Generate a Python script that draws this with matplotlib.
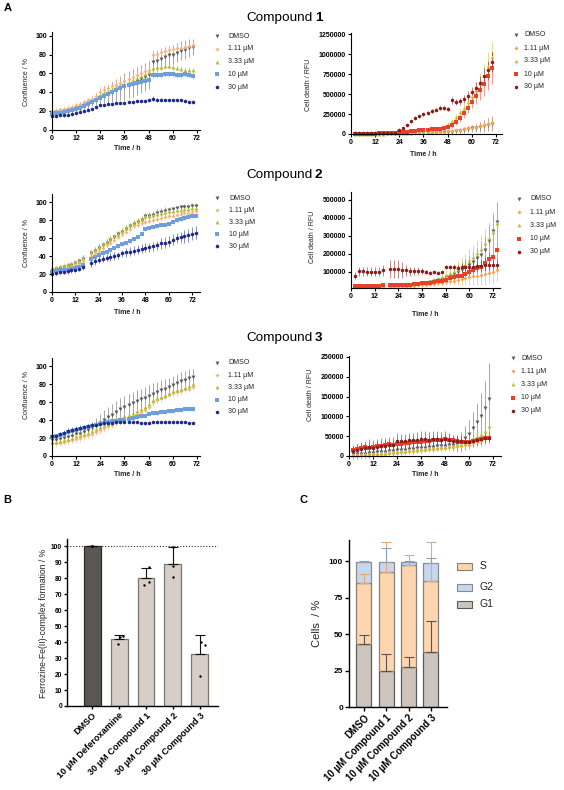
import matplotlib
matplotlib.use('Agg')
import matplotlib.pyplot as plt
from matplotlib.lines import Line2D
from matplotlib.patches import Rectangle
from matplotlib.colors import to_rgba

plt.rcParams['font.family'] = ['Liberation Sans', 'DejaVu Sans']

# ---------------- data ----------------
LABELS = ['DMSO', '1.11 µM', '3.33 µM', '10 µM', '30 µM']
XTICKS = [0, 12, 24, 36, 48, 60, 72]

# Compound 1
T1 = [0, 2, 4, 6, 8, 10, 12, 14, 16, 18, 20, 22, 24, 26, 28, 30, 32, 34, 36, 38, 40, 42, 44, 46, 48, 50, 52, 54, 56, 58, 60, 62, 64, 66, 68, 70]
T1R = [2, 4, 6, 8, 10, 12, 14, 16, 18, 20, 22, 24, 26, 28, 30, 32, 34, 36, 38, 40, 42, 44, 46, 48, 50, 52, 54, 56, 58, 60, 62, 64, 66, 68, 70]
c1_dmso = [19, 19, 20, 20, 21, 22, 23, 24, 26, 28, 30, 32, 35, 37, 38, 40, 42, 44, 46, 48, 50, 52, 54, 56, 58, 72, 73, 75, 77, 79, 80, 82, 84, 85, 87, 88]
c1_dmso_err = [3, 3, 3, 3, 3, 3, 4, 4, 4, 5, 5, 6, 8, 9, 10, 11, 12, 13, 14, 14, 15, 15, 15, 15, 15, 12, 11, 11, 11, 10, 10, 10, 10, 10, 10, 9]
c1_111 = [20, 20, 21, 22, 23, 24, 26, 27, 29, 31, 33, 36, 40, 42, 44, 46, 48, 50, 52, 54, 56, 58, 60, 62, 64, 80, 81, 83, 84, 85, 86, 87, 87, 88, 89, 90]
c1_111_err = [3, 3, 3, 3, 3, 3, 3, 3, 4, 4, 4, 5, 6, 6, 6, 6, 6, 6, 6, 6, 6, 6, 6, 6, 6, 4, 4, 4, 4, 4, 4, 4, 4, 4, 4, 4]
c1_333 = [18, 18, 19, 20, 21, 22, 24, 25, 27, 29, 31, 34, 37, 39, 41, 43, 45, 47, 49, 51, 53, 55, 57, 59, 61, 66, 67, 67, 68, 68, 67, 66, 65, 64, 64, 63]
c1_333_err = [2, 2, 2, 2, 2, 2, 3, 3, 3, 3, 3, 3, 4, 4, 4, 4, 4, 4, 4, 4, 4, 4, 4, 4, 4, 3, 3, 3, 3, 3, 3, 3, 3, 3, 3, 3]
c1_10 = [17, 18, 18, 19, 20, 21, 22, 23, 25, 27, 29, 31, 34, 36, 38, 40, 42, 44, 46, 47, 49, 50, 51, 52, 53, 58, 58, 58, 59, 59, 59, 58, 58, 59, 58, 57]
c1_10_err = [3, 3, 3, 3, 3, 3, 3, 3, 3, 3, 3, 3, 3, 3, 3, 3, 3, 3, 3, 3, 3, 3, 3, 3, 3, 3, 3, 3, 3, 3, 3, 3, 3, 3, 3, 3]
c1_30 = [14, 14, 15, 15, 16, 17, 18, 19, 20, 21, 22, 24, 26, 26, 27, 27, 28, 28, 28, 29, 29, 30, 30, 30, 31, 33, 32, 32, 32, 31, 31, 31, 31, 30, 29, 29]
c1_30_err = [1, 1, 1, 1, 1, 1, 1, 1, 1, 1, 1, 1, 1, 1, 1, 1, 1, 1, 1, 1, 1, 1, 1, 1, 1, 3, 2, 2, 1, 1, 1, 1, 1, 1, 1, 1]

d1_dmso = [5000, 5000, 5000, 5000, 5000, 6000, 6000, 6000, 7000, 7000, 8000, 8000, 9000, 10000, 10000, 11000, 12000, 13000, 14000, 15000, 17000, 19000, 22000, 25000, 30000, 35000, 42000, 50000, 60000, 70000, 80000, 90000, 100000, 115000, 130000]
d1_dmso_err = [3000, 3000, 3000, 3000, 3000, 3000, 3000, 3000, 3000, 3000, 3000, 4000, 4000, 5000, 5000, 6000, 6000, 7000, 8000, 9000, 10000, 12000, 14000, 16000, 20000, 25000, 30000, 35000, 40000, 45000, 50000, 60000, 70000, 80000, 90000]
d1_111 = [6000, 6000, 6000, 6000, 6000, 7000, 7000, 7000, 8000, 8000, 9000, 10000, 11000, 12000, 13000, 14000, 15000, 16000, 18000, 20000, 22000, 25000, 28000, 32000, 38000, 45000, 52000, 60000, 70000, 80000, 90000, 100000, 110000, 125000, 140000]
d1_111_err = [3000, 3000, 3000, 3000, 3000, 3000, 3000, 3000, 3000, 3000, 3000, 4000, 4000, 5000, 5000, 5000, 6000, 6000, 7000, 8000, 9000, 10000, 12000, 14000, 16000, 18000, 20000, 25000, 30000, 35000, 40000, 45000, 50000, 60000, 70000]
d1_333 = [5000, 5000, 5000, 5000, 5000, 6000, 6000, 6000, 7000, 7000, 8000, 10000, 12000, 15000, 18000, 22000, 26000, 30000, 35000, 40000, 48000, 60000, 85000, 120000, 160000, 210000, 270000, 330000, 400000, 470000, 550000, 640000, 740000, 850000, 960000]
d1_333_err = [3000, 3000, 3000, 3000, 3000, 3000, 3000, 3000, 3000, 3000, 3000, 4000, 4000, 5000, 5000, 6000, 6000, 7000, 8000, 10000, 12000, 15000, 20000, 25000, 30000, 40000, 50000, 60000, 70000, 80000, 100000, 120000, 140000, 170000, 190000]
d1_10 = [5000, 5000, 5000, 6000, 6000, 6000, 7000, 7000, 8000, 8000, 10000, 20000, 25000, 30000, 35000, 40000, 45000, 50000, 55000, 58000, 62000, 66000, 72000, 85000, 110000, 150000, 200000, 260000, 330000, 400000, 470000, 550000, 620000, 720000, 830000]
d1_10_err = [4000, 4000, 4000, 4000, 4000, 4000, 4000, 4000, 4000, 4000, 4000, 8000, 8000, 8000, 9000, 9000, 9000, 10000, 10000, 10000, 11000, 12000, 14000, 18000, 30000, 40000, 50000, 60000, 70000, 80000, 100000, 120000, 140000, 170000, 200000]
d1_30 = [8000, 9000, 9000, 10000, 10000, 10000, 11000, 11000, 12000, 12000, 14000, 45000, 75000, 115000, 160000, 200000, 225000, 245000, 265000, 290000, 305000, 320000, 325000, 315000, 420000, 400000, 410000, 440000, 480000, 520000, 570000, 640000, 720000, 800000, 900000]
d1_30_err = [5000, 5000, 5000, 5000, 5000, 5000, 5000, 5000, 5000, 5000, 5000, 10000, 12000, 14000, 16000, 18000, 18000, 20000, 20000, 22000, 22000, 25000, 25000, 25000, 40000, 40000, 45000, 50000, 60000, 70000, 80000, 90000, 100000, 110000, 130000]

# Compound 2
T2L = [0, 2, 4, 6, 8, 10, 12, 14, 16, 20, 22, 24, 26, 28, 30, 32, 34, 36, 38, 40, 42, 44, 46, 48, 50, 52, 54, 56, 58, 60, 62, 64, 66, 68, 70, 72, 74]
T2R = [2, 4, 6, 8, 10, 12, 14, 16, 20, 22, 24, 26, 28, 30, 32, 34, 36, 38, 40, 42, 44, 46, 48, 50, 52, 54, 56, 58, 60, 62, 64, 66, 68, 70, 72, 74]
c2_dmso = [25, 26, 27, 28, 29, 30, 32, 34, 37, 43, 46, 49, 52, 55, 58, 61, 64, 67, 70, 73, 76, 78, 80, 84, 85, 86, 88, 89, 90, 91, 92, 93, 94, 95, 95, 96, 96]
c2_dmso_err = [2, 2, 2, 2, 3, 3, 3, 3, 4, 4, 4, 4, 4, 4, 4, 4, 4, 4, 4, 4, 4, 4, 4, 4, 4, 4, 4, 4, 4, 4, 3, 3, 3, 3, 3, 3, 3]
c2_111 = [24, 25, 26, 27, 28, 29, 30, 32, 34, 40, 43, 46, 49, 52, 55, 58, 61, 64, 67, 70, 73, 75, 77, 78, 79, 80, 81, 82, 83, 84, 85, 86, 87, 88, 88, 89, 90]
c2_111_err = [2, 2, 2, 2, 2, 2, 2, 2, 2, 3, 3, 3, 3, 3, 3, 3, 3, 3, 3, 3, 3, 3, 3, 3, 3, 3, 3, 3, 3, 3, 3, 3, 3, 3, 3, 3, 3]
c2_333 = [26, 27, 28, 29, 30, 31, 33, 35, 38, 44, 47, 50, 53, 56, 59, 62, 65, 68, 71, 74, 77, 79, 81, 84, 85, 86, 87, 88, 89, 90, 90, 91, 91, 92, 92, 93, 93]
c2_333_err = [3, 3, 3, 3, 3, 3, 3, 3, 3, 3, 3, 3, 3, 3, 3, 3, 3, 3, 3, 3, 3, 3, 3, 3, 3, 3, 3, 3, 3, 3, 3, 3, 3, 3, 3, 3, 3]
c2_10 = [22, 23, 24, 24, 25, 26, 27, 28, 30, 37, 39, 41, 43, 45, 47, 49, 51, 53, 55, 57, 59, 61, 64, 70, 71, 72, 73, 74, 75, 76, 78, 80, 81, 82, 83, 84, 85]
c2_10_err = [2, 2, 2, 2, 2, 2, 2, 2, 2, 2, 2, 2, 2, 2, 2, 2, 2, 2, 2, 2, 2, 2, 2, 2, 2, 2, 2, 2, 2, 2, 2, 2, 2, 2, 2, 2, 2]
c2_30 = [20, 21, 22, 22, 23, 24, 25, 26, 28, 32, 34, 36, 37, 38, 39, 40, 41, 43, 44, 45, 46, 47, 48, 49, 50, 51, 52, 54, 55, 56, 58, 60, 61, 62, 63, 65, 66]
c2_30_err = [2, 2, 2, 2, 3, 3, 3, 3, 4, 4, 4, 4, 4, 4, 4, 4, 4, 4, 5, 5, 5, 5, 5, 5, 5, 5, 5, 6, 6, 6, 6, 6, 6, 7, 7, 7, 7]

d2_dmso = [18000, 19000, 20000, 20000, 21000, 21000, 22000, 23000, 24000, 25000, 26000, 27000, 28000, 30000, 32000, 34000, 36000, 40000, 44000, 48000, 54000, 60000, 70000, 80000, 90000, 100000, 110000, 125000, 140000, 155000, 175000, 195000, 220000, 270000, 330000, 380000]
d2_dmso_err = [3000, 3000, 3000, 3000, 3000, 3000, 3000, 3000, 3000, 3000, 3000, 3000, 4000, 4000, 5000, 5000, 6000, 8000, 10000, 12000, 15000, 18000, 20000, 25000, 30000, 35000, 40000, 45000, 50000, 55000, 60000, 70000, 80000, 90000, 100000, 110000]
d2_111 = [15000, 15000, 15000, 16000, 16000, 16000, 17000, 17000, 18000, 19000, 20000, 21000, 22000, 23000, 24000, 26000, 28000, 30000, 32000, 34000, 36000, 40000, 45000, 48000, 52000, 55000, 60000, 65000, 70000, 75000, 80000, 85000, 90000, 95000, 100000, 110000]
d2_111_err = [4000, 4000, 4000, 4000, 4000, 4000, 4000, 4000, 5000, 5000, 5000, 5000, 6000, 6000, 7000, 8000, 9000, 10000, 12000, 14000, 16000, 18000, 20000, 22000, 25000, 28000, 30000, 35000, 40000, 45000, 50000, 55000, 60000, 60000, 60000, 60000]
d2_333 = [20000, 21000, 21000, 22000, 22000, 23000, 24000, 25000, 25000, 26000, 27000, 28000, 30000, 32000, 34000, 36000, 38000, 42000, 46000, 52000, 58000, 66000, 80000, 95000, 105000, 115000, 130000, 145000, 165000, 185000, 205000, 230000, 260000, 290000, 320000, 370000]
d2_333_err = [3000, 3000, 3000, 3000, 3000, 3000, 3000, 3000, 3000, 3000, 3000, 4000, 4000, 5000, 6000, 7000, 8000, 10000, 12000, 15000, 20000, 25000, 30000, 35000, 40000, 45000, 50000, 55000, 60000, 65000, 70000, 75000, 80000, 90000, 100000, 120000]
d2_10 = [20000, 20000, 20000, 20000, 22000, 22000, 24000, 25000, 25000, 25000, 26000, 27000, 28000, 30000, 32000, 34000, 36000, 38000, 40000, 44000, 48000, 52000, 58000, 64000, 70000, 75000, 80000, 90000, 100000, 110000, 120000, 130000, 150000, 170000, 185000, 220000]
d2_10_err = [3000, 3000, 3000, 3000, 3000, 3000, 3000, 3000, 3000, 3000, 3000, 3000, 4000, 4000, 5000, 5000, 6000, 7000, 8000, 10000, 12000, 14000, 16000, 18000, 20000, 22000, 24000, 26000, 28000, 30000, 32000, 35000, 38000, 40000, 42000, 45000]
d2_30 = [80000, 105000, 105000, 100000, 100000, 100000, 100000, 110000, 115000, 115000, 115000, 110000, 110000, 105000, 105000, 105000, 105000, 100000, 95000, 100000, 95000, 100000, 130000, 130000, 125000, 120000, 125000, 130000, 130000, 130000, 135000, 135000, 140000, 140000, 140000, 140000]
d2_30_err = [20000, 25000, 25000, 25000, 25000, 25000, 25000, 30000, 50000, 50000, 50000, 45000, 30000, 25000, 20000, 20000, 15000, 10000, 8000, 8000, 8000, 8000, 8000, 10000, 15000, 20000, 25000, 25000, 30000, 30000, 30000, 30000, 35000, 35000, 35000, 40000]

# Compound 3
T3 = T1
T3R = T1R
c3_dmso = [18, 18, 19, 20, 21, 22, 24, 25, 27, 29, 31, 34, 37, 40, 43, 46, 49, 52, 55, 57, 59, 61, 63, 65, 67, 69, 71, 73, 75, 77, 79, 81, 83, 85, 87, 88]
c3_dmso_err = [4, 4, 4, 4, 4, 5, 5, 5, 6, 6, 7, 8, 10, 11, 12, 12, 12, 12, 12, 12, 12, 12, 12, 12, 12, 12, 11, 11, 11, 10, 10, 10, 10, 10, 10, 9]
c3_111 = [14, 14, 15, 16, 17, 18, 19, 20, 22, 23, 25, 27, 29, 31, 33, 35, 37, 39, 41, 43, 45, 47, 49, 51, 55, 60, 62, 64, 66, 68, 70, 71, 72, 74, 75, 77]
c3_111_err = [4, 4, 4, 4, 4, 4, 4, 4, 4, 4, 4, 4, 4, 4, 4, 4, 4, 4, 4, 4, 4, 4, 4, 4, 4, 4, 4, 4, 4, 4, 4, 4, 4, 4, 4, 4]
c3_333 = [16, 16, 17, 18, 19, 20, 22, 23, 25, 26, 28, 30, 32, 34, 36, 38, 40, 42, 44, 46, 48, 50, 52, 54, 58, 62, 64, 66, 68, 70, 72, 73, 74, 76, 78, 80]
c3_333_err = [3, 3, 3, 3, 3, 3, 3, 3, 3, 3, 3, 3, 3, 3, 3, 3, 3, 3, 3, 3, 3, 3, 3, 3, 3, 3, 3, 3, 3, 3, 3, 3, 3, 3, 3, 3]
c3_10 = [21, 22, 23, 25, 27, 28, 29, 30, 31, 32, 33, 34, 36, 37, 38, 39, 39, 40, 40, 41, 42, 43, 44, 45, 47, 48, 48, 49, 49, 50, 50, 51, 51, 52, 52, 52]
c3_10_err = [2, 2, 2, 2, 2, 2, 2, 2, 2, 2, 2, 2, 2, 2, 2, 2, 2, 2, 2, 2, 2, 2, 2, 2, 2, 2, 2, 2, 2, 2, 2, 2, 2, 2, 2, 2]
c3_30 = [22, 22, 24, 26, 28, 29, 30, 31, 32, 33, 34, 35, 36, 37, 37, 37, 38, 38, 38, 38, 38, 38, 37, 37, 37, 38, 38, 38, 38, 38, 38, 38, 38, 38, 37, 37]
c3_30_err = [3, 3, 3, 3, 3, 3, 3, 3, 3, 3, 3, 3, 2, 2, 2, 2, 1, 1, 1, 1, 1, 1, 1, 1, 1, 1, 1, 1, 1, 1, 1, 1, 1, 1, 1, 1]

d3_dmso = [5000, 5000, 6000, 6000, 7000, 8000, 9000, 10000, 11000, 12000, 13000, 14000, 15000, 16000, 17000, 18000, 19000, 20000, 21000, 22000, 23000, 24000, 25000, 26000, 27000, 28000, 30000, 35000, 45000, 55000, 70000, 85000, 100000, 120000, 145000]
d3_dmso_err = [12000, 12000, 12000, 12000, 12000, 12000, 12000, 12000, 12000, 12000, 12000, 12000, 12000, 12000, 12000, 12000, 12000, 12000, 12000, 12000, 12000, 12000, 12000, 12000, 12000, 15000, 20000, 25000, 30000, 35000, 40000, 50000, 60000, 70000, 90000]
d3_111 = [2000, 2000, 3000, 3000, 4000, 4000, 5000, 5000, 6000, 7000, 8000, 9000, 10000, 11000, 12000, 13000, 14000, 15000, 16000, 17000, 18000, 19000, 20000, 21000, 22000, 23000, 24000, 25000, 27000, 29000, 32000, 35000, 38000, 42000, 50000]
d3_111_err = [5000, 5000, 5000, 5000, 5000, 5000, 5000, 5000, 5000, 5000, 5000, 5000, 5000, 5000, 5000, 5000, 5000, 5000, 5000, 5000, 5000, 5000, 5000, 5000, 5000, 5000, 5000, 6000, 6000, 7000, 7000, 8000, 8000, 9000, 10000]
d3_333 = [3000, 3000, 4000, 4000, 5000, 5000, 6000, 7000, 8000, 9000, 10000, 11000, 12000, 13000, 14000, 15000, 16000, 17000, 18000, 19000, 20000, 21000, 22000, 23000, 24000, 25000, 27000, 30000, 35000, 40000, 45000, 50000, 55000, 62000, 75000]
d3_333_err = [6000, 6000, 6000, 6000, 6000, 6000, 6000, 6000, 6000, 6000, 6000, 6000, 6000, 6000, 6000, 6000, 6000, 6000, 6000, 6000, 6000, 6000, 6000, 6000, 6000, 10000, 12000, 15000, 18000, 22000, 25000, 28000, 32000, 35000, 22000]
d3_10 = [15000, 18000, 20000, 22000, 20000, 22000, 25000, 25000, 28000, 30000, 28000, 30000, 30000, 32000, 32000, 35000, 35000, 36000, 38000, 38000, 40000, 40000, 40000, 42000, 40000, 40000, 38000, 35000, 35000, 35000, 38000, 40000, 42000, 45000, 45000]
d3_10_err = [12000, 12000, 12000, 12000, 12000, 12000, 12000, 12000, 12000, 12000, 12000, 12000, 12000, 12000, 12000, 12000, 12000, 12000, 12000, 12000, 12000, 12000, 12000, 12000, 12000, 10000, 10000, 10000, 10000, 10000, 10000, 10000, 10000, 10000, 10000]
d3_30 = [12000, 15000, 18000, 20000, 22000, 20000, 22000, 25000, 25000, 28000, 28000, 38000, 38000, 38000, 40000, 40000, 40000, 42000, 42000, 40000, 42000, 42000, 40000, 42000, 40000, 38000, 38000, 38000, 36000, 36000, 38000, 40000, 42000, 45000, 45000]
d3_30_err = [12000, 15000, 18000, 18000, 20000, 20000, 20000, 20000, 20000, 20000, 20000, 20000, 18000, 18000, 18000, 18000, 20000, 20000, 20000, 20000, 20000, 20000, 20000, 20000, 18000, 15000, 15000, 12000, 12000, 12000, 12000, 12000, 12000, 12000, 12000]

# Panel B
B_CATS = ['DMSO', '10 µM Deferoxamine', '30 µM Compound 1', '30 µM Compound 2', '30 µM Compound 3']
B_MEAN = [100, 42, 80, 89, 32.5]
B_SD = [0, 2.5, 6.5, 10.5, 12]
B_POINTS = [[100, 100, 100], [43.5, 43, 39], [86.7, 77.7, 75.6], [99.6, 87.5, 80.4], [40.2, 38.1, 19]]

# Panel C
C_CATS = ['DMSO', '10 µM Compound 1', '10 µM Compound 2', '10 µM Compound 3']
C_G1 = [43, 24.5, 27.5, 37.5]
C_S = [42, 68, 70, 49]
C_G2 = [14.5, 7, 2, 12.2]
C_G1_ERR = [6, 11.5, 6.5, 21.5]
C_S_ERR = [6, 20.5, 6.5, 26.5]
C_G2_ERR = [0.3, 9.5, 0.5, 3.5]

# ---------------- style ----------------
MARKERS = ['v', 'D', '^', 's', 'h']
MS = [2.8, 2.0, 2.8, 2.4, 2.8]
COL_L = ['#5b5b5b', '#f7b37c', '#b3bf35', '#6f9fda', '#1e2a86']
COL_R = ['#5b5b5b', '#f5a34f', '#c0c03a', '#e8402b', '#8c1c1c']

W, H = 564, 790
fig = plt.figure(figsize=(W / 100, H / 100), dpi=100)


def ax_px(l, t, r, b):
    return fig.add_axes([l / W, 1 - b / H, (r - l) / W, (b - t) / H])


def fy(y):
    return 1 - y / H


def style(ax, fs=5.0, lw=0.8, length=2.5, pad=1.2):
    for s in ['top', 'right']:
        ax.spines[s].set_visible(False)
    for s in ['left', 'bottom']:
        ax.spines[s].set_linewidth(lw)
    ax.tick_params(direction='out', length=length, width=lw, labelsize=fs, pad=pad)
    for lab in ax.get_xticklabels() + ax.get_yticklabels():
        lab.set_fontweight('bold')


def ts_panel(box, t, ys, es, cols, xlim, ylim, yticks, ylab, ylab_pos, xlab_pos, leg):
    ax = ax_px(*box)
    for y, e, c, m, ms in zip(ys, es, cols, MARKERS, MS):
        ax.errorbar(t, y, yerr=e, fmt=m, ms=ms, mfc=c, mec=c, mew=0,
                    ecolor=to_rgba(c, 0.75), elinewidth=0.5, capsize=1.1,
                    capthick=0.5, clip_on=False)
    ax.set_xlim(*xlim)
    ax.set_ylim(*ylim)
    ax.set_xticks(XTICKS)
    ax.set_yticks(yticks)
    ax.set_yticklabels([str(v) for v in yticks])
    style(ax)
    fig.text(ylab_pos[0] / W, fy(ylab_pos[1]), ylab, rotation=90, fontsize=5,
             ha='center', va='center', color='#222222')
    fig.text(xlab_pos[0] / W, fy(xlab_pos[1]), 'Time / h', fontsize=5,
             fontweight='bold', ha='center', va='center', color='#222222')
    mx, tx, y0, dy = leg
    for i, (lab, c, m, ms) in enumerate(zip(LABELS, cols, MARKERS, MS)):
        yy = y0 + i * dy
        fig.add_artist(Line2D([mx / W], [fy(yy)], marker=m, color=c, ms=ms,
                              mew=0, transform=fig.transFigure))
        fig.text(tx / W, fy(yy), lab, fontsize=5, va='center', ha='left',
                 color='#222222')
    return ax


# Panel letters and titles
fig.text(4 / W, fy(3), 'A', fontsize=8, fontweight='bold', va='top', ha='left')
fig.text(3 / W, fy(495), 'B', fontsize=8, fontweight='bold', va='top', ha='left')
fig.text(300 / W, fy(495), 'C', fontsize=8, fontweight='bold', va='top', ha='left')
for num, yc in [('1', 18), ('2', 175), ('3', 338)]:
    fig.text(246 / W, fy(yc), 'Compound', fontsize=9.7, ha='left', va='center')
    fig.text(315 / W, fy(yc), num, fontsize=9.7, fontweight='bold', ha='left', va='center')

# Compound 1
ts_panel((52, 32, 200, 129.5), T1, [c1_dmso, c1_111, c1_333, c1_10, c1_30],
         [c1_dmso_err, c1_111_err, c1_333_err, c1_10_err, c1_30_err], COL_L,
         (0, 73.5), (0, 104), [0, 20, 40, 60, 80, 100], 'Confluence / %',
         (26, 82), (127, 148), (217, 228, 36, 12.8))
ts_panel((351, 33, 502, 134), T1R, [d1_dmso, d1_111, d1_333, d1_10, d1_30],
         [d1_dmso_err, d1_111_err, d1_333_err, d1_10_err, d1_30_err], COL_R,
         (0, 75), (0, 1262600), [0, 250000, 500000, 750000, 1000000, 1250000],
         'Cell death / RFU', (308, 85), (423, 154), (516, 524, 35, 13))

# Compound 2
ts_panel((52, 194, 200, 292), T2L, [c2_dmso, c2_111, c2_333, c2_10, c2_30],
         [c2_dmso_err, c2_111_err, c2_333_err, c2_10_err, c2_30_err], COL_L,
         (0, 76), (0, 109), [0, 20, 40, 60, 80, 100], 'Confluence / %',
         (26, 243), (127, 312), (217, 229, 198, 12))
ts_panel((351, 192, 500, 288), T2R, [d2_dmso, d2_111, d2_333, d2_10, d2_30],
         [d2_dmso_err, d2_111_err, d2_333_err, d2_10_err, d2_30_err], COL_R,
         (0, 75.5), (11000, 544000), [100000, 200000, 300000, 400000, 500000],
         'Cell death / RFU', (312, 237), (425, 315), (519, 530, 199, 13.2))

# Compound 3
ts_panel((52, 358, 200, 456), T3, [c3_dmso, c3_111, c3_333, c3_10, c3_30],
         [c3_dmso_err, c3_111_err, c3_333_err, c3_10_err, c3_30_err], COL_L,
         (0, 73.5), (0, 109), [0, 20, 40, 60, 80, 100], 'Confluence / %',
         (26, 395), (127, 474), (217, 228, 363, 12.2))
ts_panel((349, 356, 501, 456), T3R, [d3_dmso, d3_111, d3_333, d3_10, d3_30],
         [d3_dmso_err, d3_111_err, d3_333_err, d3_10_err, d3_30_err], COL_R,
         (0, 76), (0, 252500), [0, 50000, 100000, 150000, 200000, 250000],
         'Cell death / RFU', (310, 395), (425, 474), (513, 521, 358, 13.2))

# ---------------- Panel B ----------------
axB = ax_px(67, 539, 218, 706)
xb = list(range(len(B_CATS)))
bcols = ['#5a5653'] + ['#d6cec7'] * (len(B_CATS) - 1)
becols = ['#2e2b29'] + ['#7a7570'] * (len(B_CATS) - 1)
axB.bar(xb, B_MEAN, width=0.63, color=bcols, edgecolor=becols, linewidth=0.9, zorder=2)
axB.errorbar(xb, B_MEAN, yerr=[[0] * len(B_SD), B_SD], fmt='none', ecolor='#111111',
             elinewidth=0.8, capsize=3.5, capthick=0.8, zorder=3)
JIT = [[0, 0, 0], [0.13, 0.05, -0.05], [0.1, 0.12, -0.08], [0, 0, 0], [0.05, 0.2, 0.0]]
for i, pts in enumerate(B_POINTS):
    axB.scatter([i + j for j in JIT[i]], pts, s=3, color='#000000', zorder=4, linewidths=0)
axB.axhline(100, ls=(0, (1, 1.6)), color='#333333', lw=0.8, zorder=1)
axB.set_xlim(-0.93, 4.67)
axB.set_ylim(0, 104.4)
axB.set_yticks(list(range(0, 101, 10)))
axB.set_xticks(xb)
axB.set_xticklabels(B_CATS, rotation=45, ha='right', rotation_mode='anchor')
style(axB, fs=4.8, lw=1.0, length=2.5, pad=1.0)
for lab in axB.get_xticklabels():
    lab.set_fontsize(6.6)
fig.text(44 / W, fy(623), 'Ferrozine-Fe(II)-complex formation / %', rotation=90,
         fontsize=6.2, ha='center', va='center', color='#222222')

# ---------------- Panel C ----------------
axC = ax_px(349, 540, 447, 707)
xc = list(range(len(C_CATS)))
g1c, sc, g2c = '#cdc5bd', '#fdd5ae', '#c6d7ee'
axC.bar(xc, C_G1, width=0.67, color=g1c, edgecolor='#5a5a5a', linewidth=0.9, zorder=2)
sbot = C_G1
axC.bar(xc, C_S, width=0.67, bottom=sbot, color=sc, edgecolor='#8a7f76', linewidth=0.9, zorder=2)
g2bot = [a + b for a, b in zip(C_G1, C_S)]
axC.bar(xc, C_G2, width=0.67, bottom=g2bot, color=g2c, edgecolor='#8a8a8a', linewidth=0.9, zorder=2)
g2top = [a + b for a, b in zip(g2bot, C_G2)]
axC.errorbar(xc, C_G1, yerr=[[0] * 4, C_G1_ERR], fmt='none', ecolor='#555555',
             elinewidth=0.8, capsize=3.5, capthick=0.8, zorder=3)
axC.errorbar(xc, g2bot, yerr=[[0] * 4, C_S_ERR], fmt='none', ecolor='#e3a77a',
             elinewidth=0.8, capsize=3.5, capthick=0.8, zorder=3)
axC.errorbar(xc, g2top, yerr=[[0] * 4, C_G2_ERR], fmt='none', ecolor='#8d9fc0',
             elinewidth=0.8, capsize=3.5, capthick=0.8, zorder=3)
axC.set_xlim(-0.67, 3.72)
axC.set_ylim(0, 114.4)
axC.set_yticks([0, 25, 50, 75, 100])
axC.set_xticks(xc)
axC.set_xticklabels(C_CATS, rotation=45, ha='right', rotation_mode='anchor')
style(axC, fs=6, lw=1.0, length=3)
for lab in axC.get_xticklabels():
    lab.set_fontsize(7)
fig.text(317 / W, fy(623), 'Cells  / %', rotation=90, fontsize=8,
         ha='center', va='center', color='#222222')
for lab, col, ec, yc in [('S', sc, '#8a7f76', 566), ('G2', g2c, '#8a8a8a', 587), ('G1', g1c, '#5a5a5a', 604)]:
    fig.add_artist(Rectangle((457 / W, fy(yc + 3.5)), 15 / W, 7 / H, facecolor=col,
                             edgecolor=ec, linewidth=0.8, transform=fig.transFigure))
    fig.text(480 / W, fy(yc), lab, fontsize=7.5, ha='left', va='center', color='#222222')

fig.savefig('out.png', dpi=100, facecolor='white')
